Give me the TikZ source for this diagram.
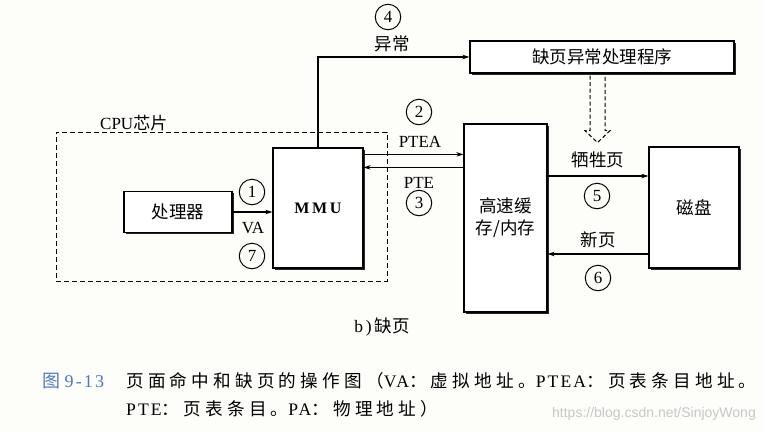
\documentclass[tikz,border=0pt]{standalone}
\usepackage{fontspec}
\setmainfont{Liberation Serif}
\newfontfamily\cjk{Noto Sans CJK SC}
\newfontfamily\capcjk{Noto Sans CJK SC}[LetterSpace=24]
\newfontfamily\capser{Liberation Serif}[LetterSpace=12]
\newfontfamily\wmfont{Liberation Sans}
\usetikzlibrary{shadows,arrows.meta,calc}
\definecolor{bg}{RGB}{253,253,250}
\definecolor{capblue}{RGB}{80,120,190}
\begin{document}
\begin{tikzpicture}[x=1pt,y=-1pt,
  box/.style={draw, fill=white, line width=1.2pt, inner sep=0pt,
    general shadow={fill=black!85, shadow xshift=1.7pt, shadow yshift=-1.7pt}},
  num/.style={circle, draw, line width=1pt, minimum size=25.5pt, inner sep=0pt,
    font=\fontsize{17}{17}\selectfont},
  arr/.style={-{Stealth[length=7pt,width=4.5pt]}, line width=1.1pt},
  lbl/.style={inner sep=0pt, font=\fontsize{17}{18}\selectfont},
  zh/.style={inner sep=0pt, font=\fontsize{17.5}{22}\selectfont\cjk},
  dsh/.style={dash pattern=on 5pt off 3pt, line width=1pt},
]
\fill[bg] (0,0) rectangle (764,432);
\useasboundingbox (0,0) rectangle (764,432);

% CPU chip
\node[draw, dsh, minimum width=331pt, minimum height=149pt, inner sep=0pt] (cpu) at (221.5,206.5) {};
\node[lbl, anchor=west] (cpulbl) at (100,123) {CPU{\cjk 芯片}};

% boxes
\node[box, zh, minimum width=108pt, minimum height=41pt] (proc) at (178,212) {处理器};
\node[box, minimum width=90pt, minimum height=120pt, font=\fontsize{16}{16}\selectfont\bfseries] (mmu) at (318,208) {M\,M\,U};
\node[box, zh, minimum width=83pt, minimum height=188pt, align=center] (cache) at (505.5,218) {高速缓\\存/内存};
\node[box, zh, minimum width=90pt, minimum height=121pt] (disk) at (694,207.5) {磁盘};
\node[box, zh, minimum width=264pt, minimum height=32pt] (handler) at (602,57) {缺页异常处理程序};

% processor -> MMU
\draw[arr] (proc.east) -- (proc.east -| mmu.west);
\node[num] (n1) at (252,192) {1};
\node[lbl] (va) at (253,228) {VA};
\node[num] (n7) at (252,256) {7};

% exception
\draw[arr] (mmu.north) |- (handler.west);
\node[num] (n4) at (388,17) {4};
\node[zh] (exc) at (392,44) {异常};

% PTEA / PTE
\coordinate (pa) at ([yshift=-7pt]mmu.north east);
\coordinate (pb) at ([yshift=-20pt]mmu.north east);
\draw[arr] (pa) -- (pa -| cache.west);
\draw[arr] (pb -| cache.west) -- (pb);
\node[num] (n2) at (419,112) {2};
\node[lbl] (ptea) at (420,142) {PTEA};
\node[lbl] (pte) at (419,183) {PTE};
\node[num] (n3) at (419,203) {3};

% hollow dashed arrow from handler
\draw[dash pattern=on 4pt off 2.5pt, line width=1pt] ($(handler.south)+(-12,2)$) -- ++(0,55) -- ++(-5,0) -- ++(12.5,12) -- ++(12.5,-12) -- ++(-5,0) -- ++(0,-55);

% victim / new page
\coordinate (vy) at (0,176);
\coordinate (ny) at (0,254);
\draw[arr] (cache.east |- vy) -- (disk.west |- vy);
\draw[arr] (disk.west |- ny) -- (cache.east |- ny);
\node[zh] (victim) at (598,160) {牺牲页};
\node[num] (n5) at (597,196) {5};
\node[zh] (newp) at (598,240) {新页};
\node[num] (n6) at (598,278) {6};

% sub caption
\node[inner sep=0pt, font=\fontsize{17.5}{18}\selectfont] (sub) at (382,327) {b\,)\,{\cjk 缺页}};

% figure caption
\node[inner sep=0pt, anchor=west, text=capblue, font=\fontsize{18}{18}\selectfont] (fig) at (42,381) {{\capcjk 图} {\capser 9-13}};
\node[inner sep=0pt, anchor=west, font=\fontsize{17.6}{18}\selectfont] (cap1) at (126,381)
  {{\capcjk 页面命中和缺页的操作图（}{\capser VA}{\capcjk ：虚拟地址。}{\capser PTEA}{\capcjk ：页表条目地址。}};
\node[inner sep=0pt, anchor=west, font=\fontsize{17.6}{18}\selectfont] (cap2) at (126,409)
  {{\capser PTE}{\capcjk ：页表条目。}{\capser PA}{\capcjk ：物理地址）}};

% watermark
\node[inner sep=0pt, anchor=east, text=black!22, font=\fontsize{14}{16}\selectfont\wmfont] (wm) at (756,414) {https://blog.csdn.net/SinjoyWong};
\end{tikzpicture}
\end{document}
